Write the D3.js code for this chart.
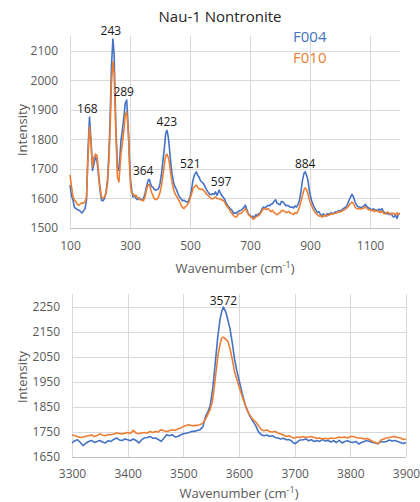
<!DOCTYPE html>
<html><head><meta charset="utf-8">
<script src="https://cdn.jsdelivr.net/npm/d3@7"></script>
<style>
html,body{margin:0;padding:0;background:#fff;}
svg text{font-family:"Open Sans",sans-serif;}
</style></head>
<body><svg id="c" width="420" height="502"></svg>
<script>
// ---------- data ----------
const topWavenumber = [100,105,110,115,120,125,130,135,140,145,150,155,160,165,170,175,180,185,190,195,200,205,210,215,220,225,230,234,238,243,247,250,253,258,263,267,270,275,280,284,289,292,295,298,302,306,310,315,320,325,330,335,340,345,350,355,360,364,368,372,376,380,385,390,395,400,405,410,415,419,423,427,430,435,440,445,450,455,460,465,470,475,480,485,490,495,500,505,510,515,521,526,530,535,540,545,550,555,560,565,570,575,580,585,590,597,603,610,615,620,625,630,635,640,645,650,655,660,665,670,675,680,685,690,695,700,705,710,715,720,725,730,735,740,745,750,755,760,765,770,775,780,785,790,795,800,805,810,815,820,825,830,835,840,845,850,855,860,865,870,875,880,884,888,893,898,905,910,915,920,925,930,935,940,945,950,955,960,965,970,975,980,985,990,995,1000,1005,1010,1015,1020,1025,1030,1035,1040,1045,1050,1055,1060,1065,1070,1075,1080,1085,1090,1095,1100,1105,1110,1115,1120,1125,1130,1135,1140,1145,1150,1155,1160,1165,1170,1175,1180,1185,1190,1195,1200];
const topF004 = [1645,1610,1594,1570,1565,1562,1560,1556,1551,1558,1565,1594,1763,1876,1797,1695,1718,1740,1729,1680,1628,1594,1592,1600,1620,1662,1760,1880,2046,2140,2091,1960,1842,1707,1695,1750,1797,1835,1880,1921,1933,1880,1820,1740,1662,1625,1605,1610,1600,1596,1602,1598,1594,1600,1616,1640,1660,1665,1652,1640,1639,1632,1628,1630,1633,1650,1684,1730,1775,1820,1831,1812,1786,1730,1684,1655,1639,1630,1616,1605,1600,1592,1594,1590,1588,1592,1605,1630,1662,1680,1690,1678,1673,1660,1655,1650,1640,1630,1622,1615,1612,1616,1614,1622,1610,1628,1615,1605,1598,1585,1577,1570,1565,1560,1550,1552,1549,1556,1558,1560,1565,1570,1577,1560,1548,1543,1535,1540,1535,1545,1542,1549,1552,1565,1571,1568,1572,1577,1575,1580,1582,1590,1596,1584,1582,1578,1590,1588,1582,1575,1577,1574,1570,1571,1568,1575,1571,1580,1594,1625,1662,1685,1690,1680,1662,1625,1594,1580,1568,1560,1552,1555,1545,1543,1548,1540,1546,1549,1545,1552,1548,1551,1555,1552,1558,1558,1560,1565,1568,1571,1580,1594,1605,1614,1605,1588,1578,1572,1571,1568,1572,1575,1580,1572,1568,1566,1560,1565,1562,1562,1558,1564,1560,1566,1555,1552,1548,1549,1545,1550,1540,1537,1545,1532,1548,1549];
const topF010 = [1680,1640,1605,1595,1588,1580,1577,1582,1585,1584,1588,1605,1740,1842,1786,1707,1740,1750,1746,1690,1639,1605,1600,1605,1618,1650,1735,1840,1989,2063,2023,1920,1820,1673,1656,1710,1752,1790,1835,1882,1893,1860,1808,1720,1639,1620,1616,1608,1611,1604,1598,1596,1594,1592,1605,1630,1645,1648,1635,1620,1612,1600,1596,1598,1605,1620,1645,1680,1718,1745,1750,1740,1729,1690,1656,1630,1616,1608,1599,1590,1577,1570,1566,1572,1577,1585,1599,1615,1633,1640,1645,1638,1633,1630,1632,1628,1622,1615,1611,1605,1600,1599,1602,1605,1600,1599,1596,1594,1588,1578,1571,1565,1555,1549,1542,1538,1537,1545,1550,1549,1555,1560,1566,1555,1545,1540,1538,1530,1532,1538,1540,1543,1550,1558,1566,1565,1562,1566,1560,1555,1560,1552,1549,1545,1549,1552,1558,1560,1556,1552,1554,1556,1550,1549,1545,1552,1549,1558,1571,1590,1611,1630,1636,1630,1616,1595,1577,1565,1555,1549,1545,1540,1542,1537,1540,1545,1540,1543,1545,1548,1546,1549,1550,1552,1555,1554,1556,1560,1562,1566,1570,1577,1583,1588,1582,1571,1566,1565,1566,1564,1566,1568,1571,1566,1562,1562,1558,1560,1555,1560,1556,1555,1552,1558,1550,1548,1552,1554,1548,1546,1550,1549,1545,1551,1546,1549];
const topXTicks = [100,300,500,700,900,1100];
const topYTicks = [1500,1600,1700,1800,1900,2000,2100];
const topPeaks = [168,243,289,364,423,521,597,884];
const topPeakValues = [1876,2140,1933,1665,1831,1690,1628,1690];

const bottomWavenumber = [3300,3305,3310,3315,3320,3325,3330,3335,3340,3345,3350,3355,3360,3365,3370,3375,3380,3385,3390,3395,3400,3405,3410,3415,3420,3425,3430,3435,3440,3445,3450,3455,3460,3465,3470,3475,3480,3485,3490,3495,3500,3505,3510,3515,3520,3525,3530,3535,3540,3544,3548,3552,3555,3558,3562,3566,3569,3572,3576,3580,3584,3588,3592,3596,3600,3606,3612,3618,3625,3630,3635,3640,3645,3650,3655,3660,3665,3670,3675,3680,3685,3690,3695,3700,3705,3710,3715,3720,3725,3730,3735,3740,3745,3750,3755,3760,3765,3770,3775,3780,3785,3790,3795,3800,3805,3810,3815,3820,3825,3830,3835,3840,3845,3850,3855,3860,3865,3870,3875,3880,3885,3890,3895,3900];
const bottomF004 = [1706,1715,1719,1708,1695,1705,1712,1716,1708,1712,1716,1710,1706,1715,1712,1720,1726,1718,1716,1722,1719,1715,1722,1716,1706,1718,1726,1728,1732,1725,1726,1720,1712,1725,1739,1735,1739,1730,1732,1738,1743,1745,1748,1752,1752,1756,1759,1770,1812,1830,1852,1910,1971,2040,2131,2200,2230,2248,2230,2197,2160,2104,2040,1995,1958,1900,1852,1820,1792,1775,1750,1739,1735,1738,1732,1735,1728,1726,1722,1725,1719,1720,1712,1703,1710,1718,1719,1722,1715,1719,1712,1716,1712,1720,1714,1716,1710,1715,1708,1716,1706,1712,1715,1710,1708,1712,1702,1708,1712,1716,1712,1708,1706,1703,1712,1710,1712,1718,1714,1716,1712,1708,1704,1708];
const bottomF010 = [1739,1735,1732,1728,1730,1733,1735,1738,1732,1736,1742,1738,1735,1740,1739,1742,1746,1744,1742,1745,1748,1744,1756,1746,1743,1746,1748,1745,1752,1748,1752,1750,1759,1755,1752,1755,1759,1756,1762,1765,1772,1776,1779,1775,1775,1776,1779,1785,1801,1820,1839,1870,1918,1975,2051,2100,2125,2128,2120,2111,2080,2038,1990,1960,1932,1890,1852,1822,1799,1790,1775,1759,1755,1758,1752,1750,1752,1746,1742,1738,1732,1735,1728,1726,1730,1728,1732,1728,1730,1732,1728,1725,1726,1722,1725,1722,1726,1724,1726,1730,1728,1730,1726,1732,1732,1728,1726,1726,1722,1724,1719,1712,1708,1703,1718,1722,1726,1728,1730,1732,1728,1726,1720,1722];
const bottomXTicks = [3300,3400,3500,3600,3700,3800,3900];
const bottomYTicks = [1650,1750,1850,1950,2050,2150,2250];
const bottomPeaks = [3572];
const bottomPeakValues = [2248];

const seriesNames = ["F004","F010"];
const colors = ["#4472C4","#ED7D31"];

// ---------- drawing ----------
const svg = d3.select("#c");
const gridColor = "#d9d9d9";
const tickColor = "#595959";

function panel(opt){
  const x = d3.scaleLinear().domain(opt.xDomain).range([opt.left, opt.right]);
  const y = d3.scaleLinear().domain(opt.yDomain).range([opt.bottom, opt.top]);
  const g = svg.append("g");
  // horizontal grid
  g.selectAll("line.hg").data(opt.yTicks).join("line")
    .attr("x1", opt.left).attr("x2", opt.right)
    .attr("y1", d=>Math.round(y(d))+0.5).attr("y2", d=>Math.round(y(d))+0.5)
    .attr("stroke", d=> d===opt.yDomain[0] ? "#bfbfbf" : gridColor).attr("stroke-width",1);
  // vertical grid
  g.selectAll("line.vg").data(opt.xTicks).join("line")
    .attr("x1", d=>Math.round(x(d))+0.5).attr("x2", d=>Math.round(x(d))+0.5)
    .attr("y1", opt.top).attr("y2", opt.bottom)
    .attr("stroke", gridColor).attr("stroke-width",1);
  // axes (labels only)
  const xa = g.append("g").attr("transform",`translate(0,${opt.bottom})`)
    .call(d3.axisBottom(x).tickValues(opt.xTicks).tickSize(0).tickPadding(opt.xPad).tickFormat(d3.format("d")));
  xa.select(".domain").remove();
  xa.selectAll("text").attr("fill",tickColor).style("font-size","12px");
  const ya = g.append("g").attr("transform",`translate(${opt.left},0)`)
    .call(d3.axisLeft(y).tickValues(opt.yTicks).tickSize(0).tickPadding(opt.yPad).tickFormat(d3.format("d")));
  ya.select(".domain").remove();
  ya.selectAll("text").attr("fill",tickColor).style("font-size","12px");
  // lines
  const line = d3.line().x(d=>x(d[0])).y(d=>y(d[1]));
  opt.series.forEach((s,i)=>{
    const pts = opt.xs.map((w,k)=>[w,s[k]]);
    g.append("path").datum(pts).attr("d",line).attr("fill","none")
      .attr("stroke",colors[i]).attr("stroke-width",1.6).attr("stroke-linejoin","round");
  });
  // peak labels
  g.selectAll("text.pk").data(opt.peaks).join("text")
    .attr("x",(d,i)=>x(d)+(opt.peakDx?opt.peakDx[i]:0))
    .attr("y",(d,i)=>y(opt.peakValues[i])-opt.peakGap)
    .attr("text-anchor","middle").attr("fill","#1a1a1a").style("font-size","12px").text(d=>d);
  // axis titles
  const xt = g.append("text").attr("x",(opt.left+opt.right)/2).attr("y",opt.xTitleY)
    .attr("text-anchor","middle").attr("fill",tickColor).style("font-size","13px");
  xt.append("tspan").text("Wavenumber (cm");
  xt.append("tspan").attr("dy",-5).style("font-size","9px").text("-1");
  xt.append("tspan").attr("dy",5).text(")");
  g.append("text").attr("transform",`translate(27,${opt.yTitleY}) rotate(-90)`)
    .attr("text-anchor","middle").attr("fill",tickColor).style("font-size","13px").text("Intensity");
  return {x,y};
}

panel({
  xDomain:[100,1200], yDomain:[1500,2150],
  left:70, right:400, top:36, bottom:228,
  xTicks:topXTicks, yTicks:topYTicks, xPad:13, yPad:12,
  xs:topWavenumber, series:[topF004, topF010],
  peaks:topPeaks, peakValues:topPeakValues, peakGap:4,
  peakDx:[-3,-2,-3,-6,0,-6,2,0],
  xTitleY:273, yTitleY:130
});

panel({
  xDomain:[3300,3900], yDomain:[1650,2300],
  left:72, right:406, top:294, bottom:457,
  xTicks:bottomXTicks, yTicks:bottomYTicks, xPad:12, yPad:12,
  xs:bottomWavenumber, series:[bottomF004, bottomF010],
  peaks:bottomPeaks, peakValues:bottomPeakValues, peakGap:2,
  xTitleY:498, yTitleY:377
});

// title
svg.append("text").attr("x",220).attr("y",22).attr("text-anchor","middle")
  .attr("fill","#262626").style("font-size","15px").text("Nau-1 Nontronite");

// legend
svg.selectAll("text.lg").data(seriesNames).join("text")
  .attr("x",293).attr("y",(d,i)=>42+i*21)
  .attr("fill",(d,i)=>colors[i]).style("font-size","15px").text(d=>d);
</script></body></html>
